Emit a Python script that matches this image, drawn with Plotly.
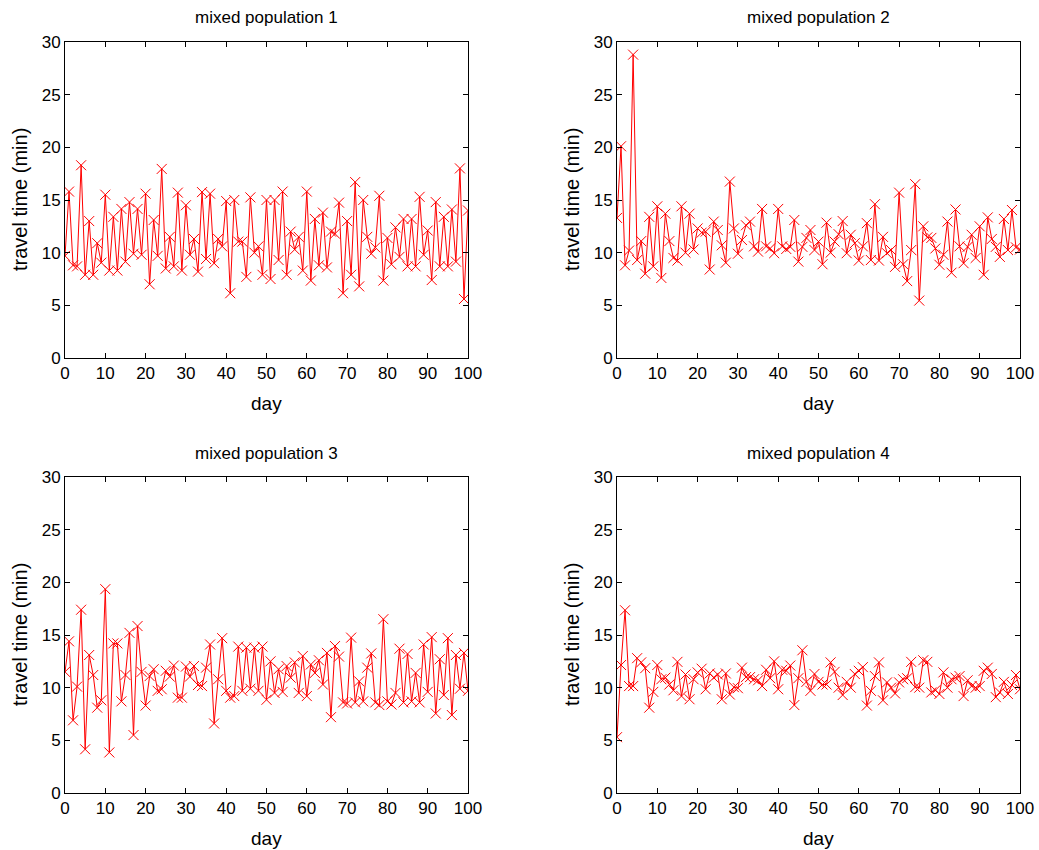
import plotly.graph_objects as go

days = list(range(101))

pop1 = [9.7, 15.8, 8.8, 8.7, 18.3, 7.9, 13.0, 7.9, 10.9, 9.05,
        15.5, 8.3, 13.4, 8.3, 14.15, 9.15, 14.8, 9.9, 14.15, 9.8,
        15.6, 7.0, 13.1, 9.7, 17.95, 8.5, 11.5, 8.7, 15.7, 8.3,
        14.5, 9.8, 11.3, 8.2, 15.75, 9.4, 15.6, 9.0, 11.3, 10.6,
        14.9, 6.15, 15.0, 11.05, 11.05, 7.7, 15.25, 10.0, 10.6, 7.9,
        15.0, 7.5, 15.0, 9.3, 15.8, 7.9, 12.0, 10.3, 11.5, 8.3,
        15.8, 7.35, 13.2, 8.8, 13.8, 8.6, 12.0, 11.8, 14.75, 6.15,
        13.0, 7.9, 16.7, 6.8, 15.0, 11.5, 9.9, 10.5, 15.4, 7.35,
        11.4, 8.9, 12.4, 9.6, 13.2, 8.7, 13.2, 8.7, 15.3, 9.8,
        12.1, 7.4, 14.8, 8.7, 13.4, 8.7, 14.1, 9.15, 18.0, 5.6,
        14.0]

pop2 = [13.3, 20.1, 8.8, 10.2, 28.8, 9.3, 11.1, 8.0, 13.4, 8.7,
        14.4, 7.6, 13.7, 11.1, 9.5, 9.25, 14.4, 10.0, 13.7, 10.3,
        12.3, 11.9, 12.0, 8.4, 12.95, 12.15, 10.7, 9.05, 16.75, 12.3,
        9.9, 11.2, 12.6, 12.95, 10.6, 10.1, 14.15, 10.6, 10.4, 9.95,
        14.15, 10.6, 10.35, 10.55, 13.1, 9.15, 10.55, 11.4, 12.15, 10.25,
        11.05, 8.9, 12.85, 10.0, 11.05, 11.75, 13.0, 9.95, 11.7, 10.9,
        9.25, 10.6, 12.8, 9.3, 14.6, 9.25, 11.5, 9.95, 10.25, 8.65,
        15.7, 8.9, 7.3, 10.25, 16.5, 5.45, 12.5, 11.45, 11.4, 10.4,
        8.85, 9.8, 12.95, 8.1, 14.1, 10.6, 9.0, 10.55, 11.7, 9.5,
        12.5, 7.9, 13.35, 11.3, 10.55, 9.6, 13.2, 10.25, 14.05, 10.5,
        10.3]

pop3 = [11.5, 14.4, 6.9, 10.1, 17.4, 4.15, 13.1, 11.2, 8.1, 8.8,
        19.35, 3.85, 14.2, 14.2, 8.7, 11.2, 15.2, 5.5, 15.85, 11.5,
        8.3, 11.1, 11.75, 9.7, 9.85, 11.6, 11.05, 12.1, 9.05, 9.05,
        12.0, 11.05, 12.05, 10.25, 10.15, 11.9, 14.1, 6.6, 10.8, 14.7,
        9.7, 9.05, 9.2, 13.9, 9.7, 13.8, 9.9, 13.8, 9.7, 13.9,
        8.85, 12.5, 9.5, 11.75, 9.6, 12.05, 10.95, 12.4, 9.5, 13.0,
        9.2, 12.2, 11.4, 12.6, 10.3, 13.3, 7.2, 13.95, 12.95, 8.6,
        8.5, 14.75, 8.6, 10.6, 8.7, 11.9, 13.25, 8.6, 8.35, 16.5,
        8.7, 8.4, 9.5, 13.7, 8.6, 13.2, 8.7, 11.4, 8.6, 14.1,
        9.6, 14.8, 7.55, 12.7, 9.3, 14.7, 7.4, 13.1, 9.9, 13.3,
        9.7]

pop4 = [5.3, 12.15, 17.35, 10.15, 10.15, 12.8, 12.4, 11.85, 8.1, 9.6,
        12.15, 10.8, 10.95, 10.3, 9.75, 12.45, 9.2, 11.25, 8.9, 10.8,
        11.45, 11.8, 9.85, 11.35, 10.95, 11.25, 8.9, 11.35, 9.35, 10.05,
        9.95, 11.9, 11.0, 11.0, 10.8, 10.7, 10.15, 11.7, 10.9, 12.5,
        9.85, 11.7, 11.6, 12.1, 8.35, 10.9, 13.55, 10.55, 9.7, 11.3,
        10.55, 10.3, 10.3, 12.4, 11.5, 10.0, 9.3, 10.55, 10.0, 11.3,
        11.6, 11.95, 8.3, 9.7, 11.1, 12.4, 8.8, 10.5, 10.0, 9.45,
        10.5, 10.8, 10.9, 12.45, 10.05, 10.0, 12.6, 12.45, 9.55, 9.75,
        9.4, 11.45, 10.0, 10.8, 10.95, 11.1, 9.2, 10.7, 10.15, 10.0,
        10.15, 11.6, 11.9, 11.3, 9.1, 9.55, 10.55, 9.4, 10.25, 11.2,
        9.85]

titles = ["mixed population 1", "mixed population 2", "mixed population 3", "mixed population 4"]
x_label = "day"
y_label = "travel time (min)"
x_ticks = list(range(0, 101, 10))
y_ticks = list(range(0, 31, 5))

W, H = 1039, 850
# plot areas in window pixels (left, right, top, bottom)
boxes = [(65, 468, 42, 358), (617, 1020, 42, 358), (65, 468, 477, 793), (617, 1020, 477, 793)]
FONT = "Liberation Sans, Arial, sans-serif"


def px(v):
    return v / W


def py(v):
    return 1 - v / H


fig = go.Figure()
annotations = []
series = [pop1, pop2, pop3, pop4]
for i, (vals, box) in enumerate(zip(series, boxes)):
    n = "" if i == 0 else str(i + 1)
    l, r, t, b = box
    fig.add_trace(go.Scatter(
        x=days, y=vals, mode="lines+markers",
        line=dict(color="red", width=1),
        marker=dict(symbol="x-thin", size=10, color="red", line=dict(color="red", width=1)),
        xaxis="x" + n, yaxis="y" + n, showlegend=False, hoverinfo="skip"))
    common = dict(showline=True, linecolor="black", linewidth=1, mirror="ticks",
                  ticks="inside", ticklen=5, tickcolor="black", showgrid=False,
                  zeroline=False, automargin=False,
                  tickfont=dict(family=FONT, size=17, color="black"))
    fig.layout["xaxis" + n] = dict(domain=[px(l), px(r)], anchor="y" + n, range=[0, 100],
                                   tickvals=x_ticks, **common)
    fig.layout["yaxis" + n] = dict(domain=[py(b), py(t)], anchor="x" + n, range=[0, 30],
                                   tickvals=y_ticks, **common)
    cx = px((l + r) / 2)
    annotations.append(dict(text=titles[i], x=cx, y=py(t - 24), xref="paper", yref="paper",
                            showarrow=False, xanchor="center", yanchor="middle",
                            font=dict(family=FONT, size=17, color="black")))
    annotations.append(dict(text=x_label, x=cx, y=py(b + 45), xref="paper", yref="paper",
                            showarrow=False, xanchor="center", yanchor="middle",
                            font=dict(family=FONT, size=19, color="black")))
    annotations.append(dict(text=y_label, x=px(l - 45), y=py((t + b) / 2),
                            xref="paper", yref="paper", textangle=-90,
                            showarrow=False, xanchor="center", yanchor="middle",
                            font=dict(family=FONT, size=20, color="black")))

fig.update_layout(width=W, height=H, margin=dict(l=0, r=0, t=0, b=0, pad=0, autoexpand=False),
                  paper_bgcolor="white", plot_bgcolor="white", hovermode=False,
                  annotations=annotations, showlegend=False)
# remove the default page margin so the figure fills the window exactly
fig.write_html("out.html", config={"displayModeBar": False, "staticPlot": True},
               post_script="document.body.style.margin='0';document.body.style.overflow='hidden';")
